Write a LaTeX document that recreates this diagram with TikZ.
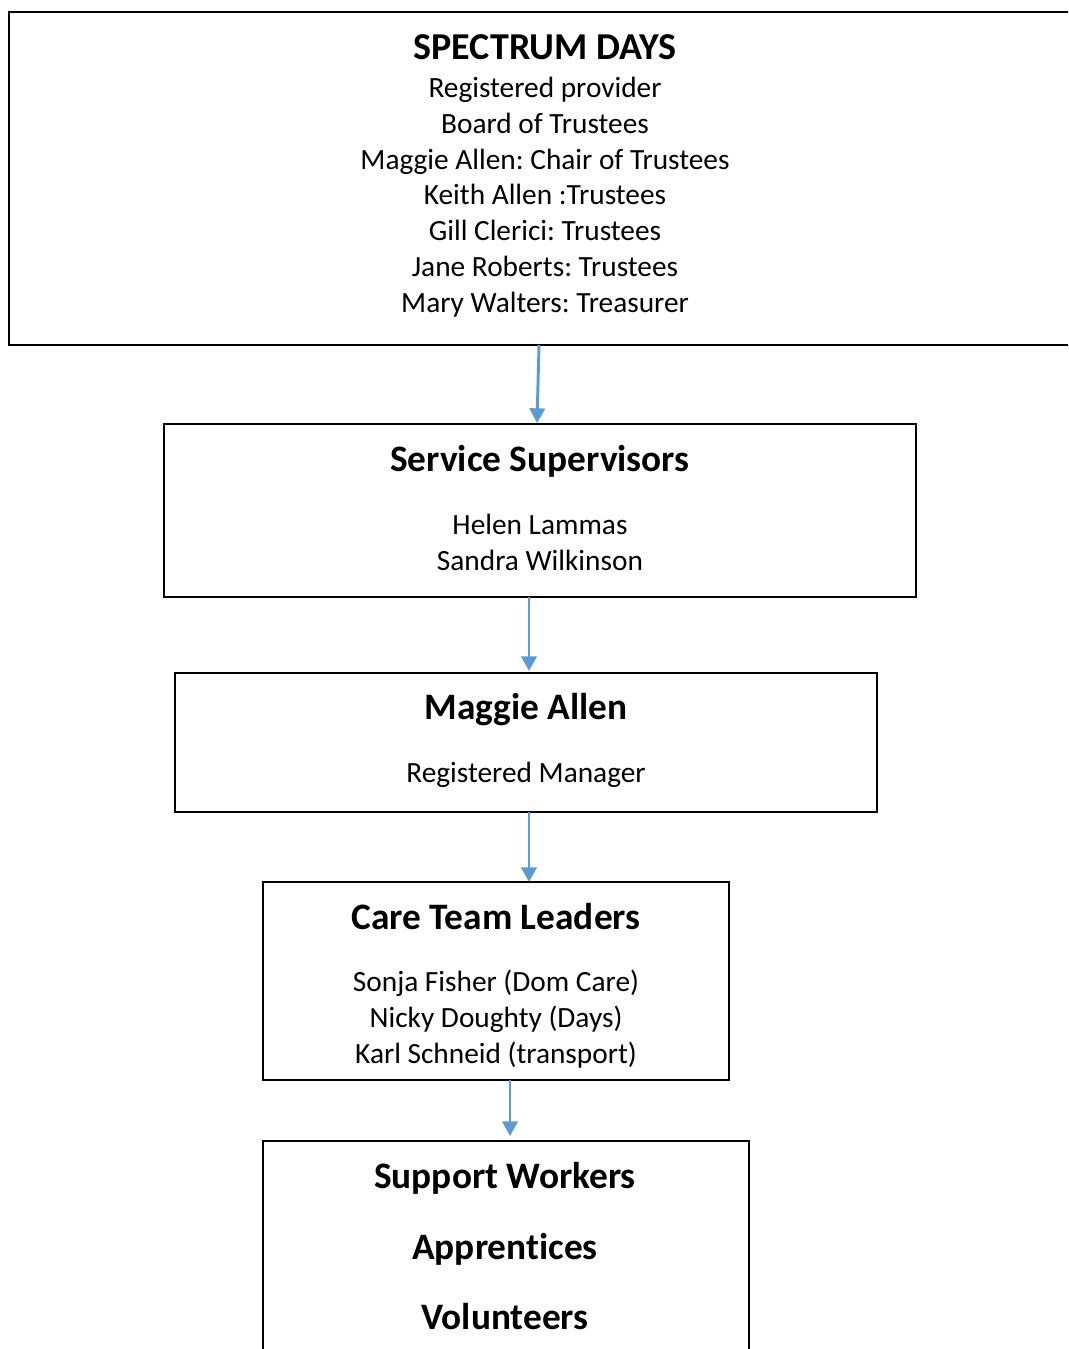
\documentclass[tikz,border=0pt]{standalone}
\usepackage{fontspec}
\setmainfont{Carlito}[Ligatures=NoCommon]
\frenchspacing
\usetikzlibrary{arrows.meta}
\definecolor{arrowblue}{HTML}{5B9BD5}
\tikzset{
  box/.style={draw=black, line width=1.5pt, rectangle, inner sep=0pt},
  thinbox/.style={draw=black, line width=0.9pt, rectangle, inner sep=0pt},
  body/.style={inner sep=0pt, anchor=base, font=\fontsize{22}{26}\selectfont},
  head/.style={inner sep=0pt, anchor=base, font=\fontsize{28.5}{32}\selectfont\bfseries},
  headbig/.style={inner sep=0pt, anchor=base, font=\fontsize{28}{32}\selectfont\bfseries},
  conn/.style={draw=arrowblue, line width=2.2pt, -{Triangle[width=11.5pt,length=11pt]}}
}
\begin{document}
\begin{tikzpicture}[x=0.75pt,y=-0.75pt]
\useasboundingbox (0,0) rectangle (1068,1349);
\begin{scope}
\clip (0,0) rectangle (1068,1349);
% boxes
\node[box, minimum width=803.25pt, minimum height=249.75pt] (top) at (544.5,178.5) {};
\node[box, minimum width=564pt, minimum height=129.75pt] (serv) at (540,510.5) {};
\node[box, minimum width=526.5pt, minimum height=104.25pt] (mgr) at (526,742.5) {};
\node[box, minimum width=349.5pt, minimum height=148.5pt] (care) at (496,981) {};
\node[thinbox, minimum width=364.5pt, minimum height=225pt] (sup) at (506,1291) {};
% top texts
\node[head] (t0) at (545,59) {SPECTRUM DAYS};
\node[body] (t1) at (545,97) {Registered provider};
\node[body] (t2) at (545,133) {Board of Trustees};
\node[body] (t3) at (545,169) {Maggie Allen: Chair of Trustees};
\node[body] (t4) at (545,204) {Keith Allen :Trustees};
\node[body] (t5) at (545,240) {Gill Clerici: Trustees};
\node[body] (t6) at (545,276) {Jane Roberts: Trustees};
\node[body] (t7) at (545,312) {Mary Walters: Treasurer};
% service
\node[headbig] (s0) at (540,471) {Service Supervisors};
\node[body] (s1) at (540,534) {Helen Lammas};
\node[body] (s2) at (540,570) {Sandra Wilkinson};
% manager
\node[headbig] (m0) at (526,719) {Maggie Allen};
\node[body] (m1) at (526,782) {Registered Manager};
% care
\node[headbig] (c0) at (496,929) {Care Team Leaders};
\node[body] (c1) at (496,991) {Sonja Fisher (Dom Care)};
\node[body] (c2) at (496,1027) {Nicky Doughty (Days)};
\node[body] (c3) at (496,1063) {Karl Schneid (transport)};
% support
\node[headbig] (w0) at (505,1188) {Support Workers};
\node[headbig] (w1) at (505,1259) {Apprentices};
\node[headbig] (w2) at (505,1329) {Volunteers};
% connectors
\coordinate (a1s) at (539,345);
\coordinate (a1e) at (537,423);
\coordinate (a2s) at (529,597);
\coordinate (a2e) at (529,671);
\coordinate (a3s) at (529,812);
\coordinate (a3e) at (529,882);
\coordinate (a4s) at (510,1080);
\coordinate (a4e) at (510,1136);
\draw[conn] (a1s) -- (a1e);
\draw[conn] (a2s) -- (a2e);
\draw[conn] (a3s) -- (a3e);
\draw[conn] (a4s) -- (a4e);
\end{scope}
\end{tikzpicture}
\end{document}
